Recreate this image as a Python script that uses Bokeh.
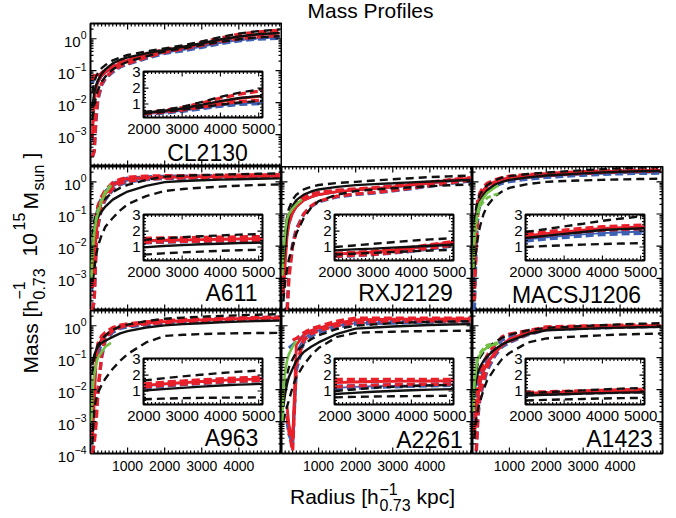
import numpy as np
from bokeh.plotting import figure
from bokeh.models import Range1d, FixedTicker, Label, LinearScale
from bokeh.layouts import row, column
from bokeh.embed import file_html
from bokeh.resources import INLINE
from bokeh.core.properties import value

nan = float("nan")
FONT = "Liberation Sans"

# ---------------- data ----------------
R = [50, 100, 150, 200, 300, 400, 600, 800, 1000, 1500, 2000, 2500, 3000, 3500, 4000, 4500, 5100]
RG = [20, 50, 100, 150, 200, 300, 400, 550, 700]

cl2130_blk    = [0.007, 0.02, 0.035, 0.05, 0.08, 0.11, 0.17, 0.22, 0.26, 0.35, 0.45, 0.56, 0.72, 0.95, 1.18, 1.38, 1.52]
cl2130_blk_hi = [0.02, 0.045, 0.065, 0.085, 0.12, 0.15, 0.21, 0.26, 0.31, 0.4, 0.5, 0.62, 0.82, 1.12, 1.45, 1.72, 1.95]
cl2130_blk_lo = [0.003, 0.008, 0.015, 0.025, 0.045, 0.065, 0.11, 0.15, 0.19, 0.28, 0.4, 0.5, 0.64, 0.8, 0.96, 1.1, 1.2]
cl2130_red    = [0.0008, 0.012, 0.03, 0.045, 0.07, 0.09, 0.13, 0.17, 0.21, 0.3, 0.42, 0.53, 0.68, 0.9, 1.14, 1.35, 1.5]
cl2130_red_hi = [0.05, 0.075, 0.06, 0.065, 0.085, 0.11, 0.15, 0.19, 0.23, 0.33, 0.46, 0.58, 0.78, 1.05, 1.38, 1.62, 1.85]
cl2130_red_lo = [0.0002, 0.0003, 0.004, 0.015, 0.04, 0.06, 0.1, 0.14, 0.17, 0.26, 0.38, 0.48, 0.62, 0.8, 1.0, 1.15, 1.25]
cl2130_blu    = [0.0006, 0.01, 0.025, 0.04, 0.065, 0.085, 0.12, 0.16, 0.19, 0.27, 0.37, 0.45, 0.57, 0.74, 0.9, 1.02, 1.1]
cl2130_blu_hi = [0.04, 0.06, 0.055, 0.06, 0.08, 0.1, 0.14, 0.17, 0.2, 0.29, 0.4, 0.48, 0.6, 0.78, 0.95, 1.06, 1.15]
cl2130_blu_lo = [0.0002, 0.0003, 0.003, 0.012, 0.035, 0.055, 0.09, 0.13, 0.16, 0.24, 0.35, 0.42, 0.54, 0.7, 0.86, 0.98, 1.03]

a611_blk    = [0.01, 0.03, 0.055, 0.08, 0.12, 0.17, 0.28, 0.38, 0.5, 0.75, 0.98, 1.06, 1.12, 1.17, 1.21, 1.25, 1.28]
a611_blk_hi = [0.02, 0.06, 0.1, 0.14, 0.22, 0.3, 0.48, 0.65, 0.8, 1.15, 1.45, 1.55, 1.62, 1.68, 1.73, 1.78, 1.82]
a611_blk_lo = [0.0008, 0.0018, 0.005, 0.01, 0.022, 0.04, 0.075, 0.13, 0.2, 0.36, 0.52, 0.6, 0.66, 0.71, 0.76, 0.8, 0.83]
a611_red    = [0.0005, 0.003, 0.02, 0.08, 0.25, 0.42, 0.8, 1.1, 1.25, 1.35, 1.4, 1.43, 1.45, 1.47, 1.49, 1.51, 1.53]
a611_red_hi = [0.002, 0.02, 0.08, 0.18, 0.35, 0.55, 0.95, 1.2, 1.4, 1.5, 1.55, 1.57, 1.58, 1.6, 1.62, 1.64, 1.66]
a611_red_lo = [0.0001, 0.0002, 0.01, 0.05, 0.18, 0.32, 0.62, 0.9, 1.05, 1.22, 1.3, 1.33, 1.35, 1.37, 1.39, 1.41, 1.43]
a611_blu    = [0.0004, 0.004, 0.04, 0.12, 0.27, 0.42, 0.72, 0.95, 1.1, 1.25, 1.35, 1.38, 1.41, 1.44, 1.47, 1.49, 1.51]
a611_blu_hi = [0.001, 0.015, 0.07, 0.16, 0.32, 0.5, 0.88, 1.1, 1.3, 1.42, 1.48, 1.5, 1.53, 1.56, 1.58, 1.6, 1.62]
a611_blu_lo = [0.0001, 0.0002, 0.008, 0.04, 0.15, 0.28, 0.55, 0.82, 1.0, 1.18, 1.27, 1.3, 1.33, 1.35, 1.37, 1.39, 1.41]
a611_grn    = [0.001, 0.006, 0.025, 0.06, 0.11, 0.25, 0.45, 0.75, nan]
a611_grn_d  = [0.0012, 0.007, 0.03, 0.07, 0.13, 0.28, 0.5, 0.8, nan]

rxj2129_blk    = [0.003, 0.01, 0.04, 0.09, 0.18, 0.27, 0.4, 0.5, 0.58, 0.7, 0.79, 0.85, 0.9, 0.96, 1.02, 1.08, 1.14]
rxj2129_blk_hi = [0.008, 0.03, 0.08, 0.15, 0.28, 0.4, 0.58, 0.7, 0.8, 0.92, 1.0, 1.1, 1.2, 1.3, 1.4, 1.48, 1.56]
rxj2129_blk_lo = [0.0002, 0.0008, 0.002, 0.004, 0.01, 0.025, 0.075, 0.16, 0.25, 0.4, 0.52, 0.58, 0.63, 0.68, 0.73, 0.78, 0.83]
rxj2129_red    = [0.0003, 0.003, 0.02, 0.05, 0.11, 0.17, 0.27, 0.34, 0.4, 0.5, 0.56, 0.62, 0.7, 0.8, 0.93, 1.1, 1.3]
rxj2129_red_hi = [0.001, 0.01, 0.05, 0.09, 0.16, 0.23, 0.33, 0.41, 0.47, 0.55, 0.6, 0.66, 0.74, 0.85, 0.98, 1.15, 1.35]
rxj2129_red_lo = [0.00005, 0.00005, 0.00008, 0.001, 0.01, 0.03, 0.1, 0.18, 0.25, 0.36, 0.42, 0.47, 0.54, 0.64, 0.77, 0.93, 1.12]
rxj2129_blu    = [0.0003, 0.003, 0.018, 0.045, 0.1, 0.16, 0.26, 0.33, 0.39, 0.48, 0.54, 0.6, 0.67, 0.76, 0.88, 1.02, 1.2]
rxj2129_blu_hi = [0.001, 0.009, 0.045, 0.085, 0.15, 0.22, 0.32, 0.4, 0.45, 0.53, 0.58, 0.64, 0.72, 0.82, 0.95, 1.1, 1.28]
rxj2129_blu_lo = [0.00005, 0.00005, 0.0001, 0.0015, 0.012, 0.035, 0.1, 0.17, 0.24, 0.34, 0.4, 0.45, 0.52, 0.61, 0.73, 0.88, 1.06]
rxj2129_grn    = [0.0012, 0.006, 0.03, 0.07, 0.1, 0.15, 0.2, 0.28, nan]

macs1206_blk    = [0.03, 0.1, 0.17, 0.25, 0.4, 0.55, 0.8, 1.0, 1.15, 1.38, 1.57, 1.7, 1.83, 1.95, 2.07, 2.13, 2.18]
macs1206_blk_hi = [0.05, 0.16, 0.28, 0.4, 0.6, 0.8, 1.1, 1.35, 1.5, 1.75, 1.95, 2.12, 2.3, 2.47, 2.65, 2.8, 2.95]
macs1206_blk_lo = [0.002, 0.008, 0.02, 0.04, 0.1, 0.18, 0.35, 0.5, 0.65, 0.85, 1.0, 1.06, 1.11, 1.15, 1.19, 1.22, 1.25]
macs1206_red    = [0.002, 0.06, 0.2, 0.33, 0.55, 0.75, 1.0, 1.2, 1.35, 1.55, 1.7, 1.84, 1.96, 2.07, 2.17, 2.22, 2.27]
macs1206_red_hi = [0.005, 0.1, 0.3, 0.45, 0.7, 0.9, 1.15, 1.35, 1.5, 1.68, 1.8, 1.95, 2.07, 2.18, 2.28, 2.33, 2.38]
macs1206_red_lo = [0.0002, 0.015, 0.15, 0.26, 0.45, 0.62, 0.88, 1.08, 1.22, 1.42, 1.6, 1.72, 1.85, 1.96, 2.06, 2.11, 2.16]
macs1206_blu    = [0.001, 0.04, 0.15, 0.26, 0.45, 0.6, 0.82, 1.0, 1.12, 1.33, 1.48, 1.6, 1.7, 1.8, 1.88, 1.93, 1.97]
macs1206_blu_hi = [0.003, 0.07, 0.22, 0.35, 0.55, 0.72, 0.95, 1.12, 1.25, 1.45, 1.6, 1.72, 1.82, 1.92, 2.0, 2.05, 2.1]
macs1206_blu_lo = [0.0001, 0.01, 0.1, 0.2, 0.36, 0.5, 0.72, 0.9, 1.02, 1.22, 1.38, 1.5, 1.6, 1.7, 1.78, 1.83, 1.87]
macs1206_grn    = [0.003, 0.02, 0.07, 0.13, 0.22, 0.32, 0.45, 0.6, 0.78]
macs1206_grn_d  = [0.002, 0.015, 0.05, 0.1, 0.17, 0.24, 0.32, 0.38, 0.43]

a963_blk    = [0.06, 0.12, 0.17, 0.22, 0.29, 0.34, 0.45, 0.58, 0.68, 0.88, 1.03, 1.12, 1.2, 1.28, 1.35, 1.4, 1.45]
a963_blk_hi = [0.03, 0.1, 0.17, 0.25, 0.36, 0.5, 0.75, 0.95, 1.08, 1.4, 1.66, 1.8, 1.92, 2.03, 2.13, 2.22, 2.3]
a963_blk_lo = [0.0002, 0.0025, 0.005, 0.008, 0.014, 0.022, 0.045, 0.08, 0.13, 0.3, 0.48, 0.52, 0.55, 0.57, 0.58, 0.59, 0.6]
a963_red    = [0.0003, 0.004, 0.08, 0.2, 0.38, 0.5, 0.75, 0.95, 1.05, 1.22, 1.35, 1.45, 1.53, 1.6, 1.67, 1.72, 1.77]
a963_red_hi = [0.001, 0.02, 0.12, 0.28, 0.48, 0.62, 0.88, 1.05, 1.15, 1.32, 1.45, 1.55, 1.63, 1.7, 1.77, 1.82, 1.87]
a963_red_lo = [0.0001, 0.0002, 0.0008, 0.008, 0.12, 0.42, 0.7, 0.9, 1.0, 1.15, 1.25, 1.35, 1.43, 1.5, 1.57, 1.62, 1.67]
a963_blu    = [0.0004, 0.005, 0.06, 0.15, 0.32, 0.46, 0.72, 0.9, 1.0, 1.17, 1.3, 1.4, 1.5, 1.6, 1.68, 1.74, 1.8]
a963_blu_hi = [0.1, 0.09, 0.08, 0.12, 0.3, 0.48, 0.78, 0.98, 1.08, 1.26, 1.4, 1.5, 1.58, 1.66, 1.73, 1.78, 1.84]
a963_blu_lo = [0.0001, 0.0003, 0.002, 0.01, 0.1, 0.35, 0.62, 0.82, 0.92, 1.08, 1.2, 1.3, 1.4, 1.48, 1.55, 1.6, 1.65]
a963_grn    = [0.0009, 0.008, 0.03, 0.06, 0.1, 0.15, 0.22, 0.29, nan]

a2261_blk    = [0.003, 0.0075, 0.015, 0.025, 0.045, 0.08, 0.15, 0.22, 0.3, 0.56, 0.81, 0.88, 0.95, 1.0, 1.05, 1.09, 1.12]
a2261_blk_hi = [0.005, 0.015, 0.03, 0.05, 0.09, 0.15, 0.26, 0.38, 0.5, 0.8, 1.0, 1.1, 1.2, 1.26, 1.31, 1.35, 1.38]
a2261_blk_lo = [0.001, 0.0018, 0.003, 0.0046, 0.012, 0.025, 0.06, 0.12, 0.2, 0.45, 0.6, 0.63, 0.65, 0.67, 0.68, 0.69, 0.7]
a2261_red    = [nan, nan, 0.003, 0.0008, 0.00025, 0.25, 0.5, 0.7, 0.85, 1.2, 1.53, 1.57, 1.6, 1.61, 1.62, 1.63, 1.64]
a2261_red_hi = [nan, nan, nan, nan, 0.35, 0.4, 0.6, 0.8, 0.95, 1.4, 1.74, 1.74, 1.74, 1.74, 1.74, 1.74, 1.74]
a2261_red_lo = [nan, nan, 0.0015, 0.0005, 0.00012, 0.06, 0.35, 0.55, 0.7, 1.0, 1.26, 1.32, 1.36, 1.39, 1.41, 1.42, 1.43]
a2261_blu    = [nan, nan, 0.002, 0.0006, 0.0003, 0.15, 0.4, 0.58, 0.72, 1.0, 1.2, 1.26, 1.3, 1.33, 1.36, 1.39, 1.42]
a2261_blu_hi = [nan, nan, nan, 0.2, 0.25, 0.3, 0.5, 0.68, 0.82, 1.1, 1.3, 1.34, 1.37, 1.4, 1.42, 1.44, 1.46]
a2261_blu_lo = [nan, nan, 0.001, 0.0004, 0.0002, 0.04, 0.3, 0.48, 0.62, 0.9, 1.12, 1.18, 1.22, 1.26, 1.3, 1.33, 1.36]
a2261_grn    = [0.001, 0.01, 0.04, 0.08, 0.13, 0.22, 0.33, nan, nan]

a1423_blk    = [0.008, 0.02, 0.035, 0.05, 0.08, 0.11, 0.18, 0.26, 0.33, 0.55, 0.72, 0.76, 0.8, 0.84, 0.87, 0.9, 0.92]
a1423_blk_hi = [0.015, 0.04, 0.07, 0.1, 0.15, 0.2, 0.3, 0.42, 0.52, 0.72, 0.86, 0.92, 0.98, 1.04, 1.1, 1.15, 1.2]
a1423_blk_lo = [0.0003, 0.0012, 0.0025, 0.004, 0.01, 0.02, 0.045, 0.09, 0.14, 0.3, 0.4, 0.44, 0.47, 0.5, 0.53, 0.55, 0.57]
a1423_red    = [0.0003, 0.002, 0.006, 0.015, 0.04, 0.07, 0.14, 0.25, 0.38, 0.62, 0.86, 0.89, 0.92, 0.95, 0.98, 1.0, 1.03]
a1423_red_hi = [0.0005, 0.004, 0.012, 0.03, 0.07, 0.12, 0.25, 0.45, 0.55, 0.7, 0.92, 0.95, 0.98, 1.01, 1.04, 1.07, 1.1]
a1423_red_lo = [0.00005, 0.0001, 0.002, 0.007, 0.02, 0.05, 0.13, 0.25, 0.33, 0.55, 0.8, 0.83, 0.86, 0.89, 0.92, 0.94, 0.97]
a1423_blu    = [0.0003, 0.002, 0.006, 0.014, 0.035, 0.065, 0.13, 0.23, 0.35, 0.58, 0.8, 0.83, 0.86, 0.89, 0.92, 0.95, 0.98]
a1423_blu_hi = [0.001, 0.006, 0.015, 0.03, 0.06, 0.1, 0.2, 0.36, 0.46, 0.65, 0.85, 0.88, 0.91, 0.94, 0.97, 1.0, 1.03]
a1423_blu_lo = [0.00005, 0.0001, 0.0015, 0.005, 0.016, 0.04, 0.11, 0.22, 0.3, 0.52, 0.76, 0.8, 0.83, 0.86, 0.89, 0.92, 0.95]
a1423_grn    = [0.002, 0.015, 0.05, 0.09, 0.12, 0.17, 0.21, 0.25, 0.28]
a1423_grn_d  = [0.003, 0.02, 0.06, 0.1, 0.14, 0.2, 0.25, 0.28, 0.3]

# axis ticks / labels
XT = [1000, 2000, 3000, 4000]
YT_UP = [1e-3, 1e-2, 1e-1, 1.0]
YT_LOW = [1e-4, 1e-3, 1e-2, 1e-1, 1.0]
IXT = [2000, 3000, 4000, 5000]
IYT = [1, 2, 3]
TITLE = "Mass Profiles"

# ---------------- tables built from the arrays ----------------
def curves(blk, blk_hi, blk_lo, red, red_hi, red_lo, blu, blu_hi, blu_lo, grn=None, grn_d=None):
    return dict(blk=blk, blk_hi=blk_hi, blk_lo=blk_lo, red=red, red_hi=red_hi, red_lo=red_lo,
                blu=blu, blu_hi=blu_hi, blu_lo=blu_lo, grn=grn, grn_d=grn_d)

DATA = {
    "CL2130": curves(cl2130_blk, cl2130_blk_hi, cl2130_blk_lo, cl2130_red, cl2130_red_hi, cl2130_red_lo,
                     cl2130_blu, cl2130_blu_hi, cl2130_blu_lo),
    "A611": curves(a611_blk, a611_blk_hi, a611_blk_lo, a611_red, a611_red_hi, a611_red_lo,
                   a611_blu, a611_blu_hi, a611_blu_lo, a611_grn, a611_grn_d),
    "RXJ2129": curves(rxj2129_blk, rxj2129_blk_hi, rxj2129_blk_lo, rxj2129_red, rxj2129_red_hi, rxj2129_red_lo,
                      rxj2129_blu, rxj2129_blu_hi, rxj2129_blu_lo, rxj2129_grn),
    "MACSJ1206": curves(macs1206_blk, macs1206_blk_hi, macs1206_blk_lo, macs1206_red, macs1206_red_hi,
                        macs1206_red_lo, macs1206_blu, macs1206_blu_hi, macs1206_blu_lo, macs1206_grn,
                        macs1206_grn_d),
    "A963": curves(a963_blk, a963_blk_hi, a963_blk_lo, a963_red, a963_red_hi, a963_red_lo,
                   a963_blu, a963_blu_hi, a963_blu_lo, a963_grn),
    "A2261": curves(a2261_blk, a2261_blk_hi, a2261_blk_lo, a2261_red, a2261_red_hi, a2261_red_lo,
                    a2261_blu, a2261_blu_hi, a2261_blu_lo, a2261_grn),
    "A1423": curves(a1423_blk, a1423_blk_hi, a1423_blk_lo, a1423_red, a1423_red_hi, a1423_red_lo,
                    a1423_blu, a1423_blu_hi, a1423_blu_lo, a1423_grn, a1423_grn_d),
}

# ---------------- styles / geometry ----------------
BLK, RED, BLU, GRN = "#111111", "#e8202a", "#3d60b3", "#72c145"
STYLES = [
    ("blu_hi", BLU, 3.3, "8 4"), ("blu_lo", BLU, 3.3, "8 4"), ("blu", BLU, 1.8, "solid"),
    ("red_hi", RED, 3.3, "8 4"), ("red_lo", RED, 3.3, "8 4"), ("red", RED, 2.8, "solid"),
    ("blk_hi", BLK, 2.4, "8 5"), ("blk_lo", BLK, 2.4, "8 5"), ("blk", BLK, 2.4, "solid"),
]
FW = [191, 191, 190]
FH = [143, 144, 143]
XMAX = 5150
YMIN, YMAX = 1e-4, 3.0
IX0, IX1 = 1990, 5100
IY0, IY1 = 0.15, 3.05
IN_LEFT, IN_TOP, IN_W, IN_H = 53, 48, 119, 46
LEFT_PAD = 53        # width of the y-label strip
TOTAL_W = 676
TOP_H = 23           # title strip
BOT_AX = 27          # room for the bottom tick labels
XLAB_H = 35          # strip holding the x-axis title
MID = 0.346          # label anchor ("middle") above the baseline, in em
XMINOR = [t for t in range(100, 5101, 100) if t not in XT]
YMINOR = [m * 10.0 ** e for e in range(-4, 1) for m in range(2, 10) if m * 10.0 ** e <= 3]
IXMINOR = [t for t in range(2100, 5100, 100) if t not in IXT]
IYMINOR = [round(0.2 * k, 3) for k in range(1, 16) if round(0.2 * k, 3) not in IYT]

# label centre x (from frame left) and baseline (above frame bottom)
PANEL_LABEL = {"CL2130": (117, 6), "A611": (141, 10), "RXJ2129": (124, 10), "MACSJ1206": (104, 8),
               "A963": (141, 8), "A2261": (148, 6), "A1423": (147, 7)}


def txt(p, x, y, text, size, align="left", angle=0.0):
    """Label whose baseline passes through (x, y) (screen px, y up from frame bottom)."""
    s = float(size)
    if angle:
        x = x - MID * s
    else:
        y = y + MID * s
    p.add_layout(Label(x=x, y=y, x_units="screen", y_units="screen", text=text, text_font=FONT,
                       text_font_size=f"{size}px", text_align=align, text_baseline="middle",
                       angle=angle, text_color="black"))


def label_axis(ax, size, standoff):
    ax.major_tick_line_color = None
    ax.minor_tick_line_color = None
    ax.major_tick_in = 0
    ax.major_tick_out = 0
    ax.minor_tick_in = 0
    ax.minor_tick_out = 0
    ax.axis_line_color = None
    ax.major_label_text_font = FONT
    ax.major_label_text_font_size = size
    ax.major_label_text_color = "black"
    ax.major_label_standoff = standoff


def blank(w, h):
    f = figure(frame_width=w, frame_height=h, x_range=Range1d(0, 1), y_range=Range1d(0, 1),
               output_backend="svg", toolbar_location=None, min_border=0,
               x_axis_location=None, y_axis_location=None)
    f.grid.visible = False
    f.outline_line_color = None
    return f


def make_panel(name, col, rw):
    fw, fh = FW[col], FH[rw]
    mbl = 37 if col == 0 else 0
    mbr = 14 if col == 2 else 0
    if rw == 0:
        mbr = 1
    mbb = BOT_AX if rw == 2 else 0
    p = figure(frame_width=fw, frame_height=fh, x_range=Range1d(0, XMAX), y_range=Range1d(YMIN, YMAX),
               y_axis_type="log", output_backend="svg", toolbar_location=None,
               x_axis_location="below" if rw == 2 else None,
               y_axis_location="left" if col == 0 else None,
               min_border_left=mbl, min_border_right=mbr, min_border_top=1 if rw == 0 else 0,
               min_border_bottom=mbb)
    p.grid.visible = False
    p.outline_line_color = "black"
    p.outline_line_width = 2
    p.background_fill_color = "white"
    p.border_fill_color = "white"

    yt = YT_LOW if rw == 2 else YT_UP
    if col == 0:
        lax = p.yaxis[0]
        lax.ticker = FixedTicker(ticks=yt)
        label_axis(lax, "15px", 4)
    if rw == 2:
        bax = p.xaxis[0]
        bax.ticker = FixedTicker(ticks=XT)
        label_axis(bax, "14px", 7)

    # pixel-space ranges used for inward tick marks on all four sides
    p.extra_x_ranges = {"px": Range1d(0, fw)}
    p.extra_y_ranges = {"py": Range1d(0, fh)}
    p.extra_x_scales = {"px": LinearScale()}
    p.extra_y_scales = {"py": LinearScale()}

    d = DATA[name]
    r = np.array(R, dtype=float)
    for key, color, width, dash in STYLES:
        p.line(r, np.array(d[key], dtype=float), line_color=color, line_width=width, line_dash=dash)
    rg = np.array(RG, dtype=float)
    if d["grn_d"] is not None:
        p.line(rg, np.array(d["grn_d"], dtype=float), line_color=GRN, line_width=2.6, line_dash="6 3")
    if d["grn"] is not None:
        p.line(rg, np.array(d["grn"], dtype=float), line_color=GRN, line_width=2.6)

    # main tick marks (inward, all four sides)
    x0s, y0s, x1s, y1s = [], [], [], []
    for ticks, L in ((XT, 6.0), (XMINOR, 3.0)):
        for t in ticks:
            x0s += [t, t]; x1s += [t, t]
            y0s += [0, fh]; y1s += [L, fh - L]
    p.segment(x0=x0s, y0=y0s, x1=x1s, y1=y1s, line_color="black", line_width=1.2, y_range_name="py")
    x0s, y0s, x1s, y1s = [], [], [], []
    for ticks, L in ((yt, 6.0), (YMINOR, 3.0)):
        for v in ticks:
            y0s += [v, v]; y1s += [v, v]
            x0s += [0, fw]; x1s += [L, fw - L]
    p.segment(x0=x0s, y0=y0s, x1=x1s, y1=y1s, line_color="black", line_width=1.2, x_range_name="px")

    # ---- inset (linear scale, same data, R >= 2000) ----
    xs = (IX1 - IX0) / IN_W
    ys = (IY1 - IY0) / IN_H
    ex0 = IX0 - IN_LEFT * xs
    ey1 = IY1 + IN_TOP * ys
    p.extra_x_ranges["ix"] = Range1d(ex0, ex0 + fw * xs)
    p.extra_y_ranges["iy"] = Range1d(ey1 - fh * ys, ey1)
    p.extra_x_scales["ix"] = LinearScale()
    p.extra_y_scales["iy"] = LinearScale()
    kw = dict(x_range_name="ix", y_range_name="iy")
    p.quad(left=[IX0], right=[IX1], bottom=[IY0], top=[IY1], fill_color="white",
           line_color="black", line_width=2, **kw)
    sel = r >= 2000
    for key, color, width, dash in STYLES:
        p.line(r[sel], np.array(d[key], dtype=float)[sel], line_color=color, line_width=width,
               line_dash=dash, **kw)
    x0s, y0s, x1s, y1s = [], [], [], []
    for ticks, L in ((IXT, 5.0), (IXMINOR, 2.5)):
        for t in ticks:
            x0s += [t, t]; x1s += [t, t]
            y0s += [IY0, IY1]; y1s += [IY0 + L * ys, IY1 - L * ys]
    for ticks, L in ((IYT, 5.0), (IYMINOR, 2.5)):
        for v in ticks:
            y0s += [v, v]; y1s += [v, v]
            x0s += [IX0, IX1]; x1s += [IX0 + L * xs, IX1 - L * xs]
    p.segment(x0=x0s, y0=y0s, x1=x1s, y1=y1s, line_color="black", line_width=1.1, **kw)
    p.text(x=IXT, y=[IY0] * len(IXT), text=[str(t) for t in IXT], text_align="center",
           text_baseline="top", y_offset=6, text_font=value(FONT), text_font_size="15px",
           text_color="black", **kw)
    p.text(x=[IX0] * len(IYT), y=IYT, text=[str(v) for v in IYT], text_align="right",
           text_baseline="middle", x_offset=-3, text_font=value(FONT), text_font_size="15px",
           text_color="black", **kw)

    lx, ly = PANEL_LABEL[name]
    txt(p, lx, ly, name, 23, align="center")
    return p


f1 = make_panel("CL2130", 0, 0)
pa611 = make_panel("A611", 0, 1)
prxj = make_panel("RXJ2129", 1, 1)
pmacs = make_panel("MACSJ1206", 2, 1)
pa963 = make_panel("A963", 0, 2)
pa2261 = make_panel("A2261", 1, 2)
pa1423 = make_panel("A1423", 2, 2)

# title strip across the top
ttl = blank(TOTAL_W - LEFT_PAD, TOP_H - 1)
txt(ttl, 370 - LEFT_PAD, 4.5, TITLE, 21, align="center")

# x-axis title strip (sub/superscripts as separate pieces)
xlab = blank(TOTAL_W - LEFT_PAD, XLAB_H)
YB = TOP_H + sum(FH) + BOT_AX + XLAB_H          # page bottom of the strips
def xl(px, py, text, size):
    txt(xlab, px - LEFT_PAD, YB - py, text, size)
xl(289.5, 503, "Radius [h", 21)
xl(379, 494, "\u22121", 16)
xl(379, 510, "0.73", 16)
xl(416, 503, "kpc]", 21)

# y-axis title strip
ylab = blank(LEFT_PAD, YB)
A = np.pi / 2
def yl(px, py, text, size):
    txt(ylab, px, YB - py, text, size, angle=A)
yl(37, 373, "Mass [h", 21)
yl(24, 299, "\u22121", 16)
yl(44, 299, "0.73", 16)
yl(37, 256, "10", 21)
yl(24, 230, "15", 16)
yl(37, 209, "M", 21)
yl(44, 190, "sun", 16)
yl(37, 158, "]", 21)

layout = row(ylab, column(row(ttl), row(f1), row(pa611, prxj, pmacs), row(pa963, pa2261, pa1423),
                          row(xlab)))
open("out.html", "w").write(file_html(layout, INLINE))
